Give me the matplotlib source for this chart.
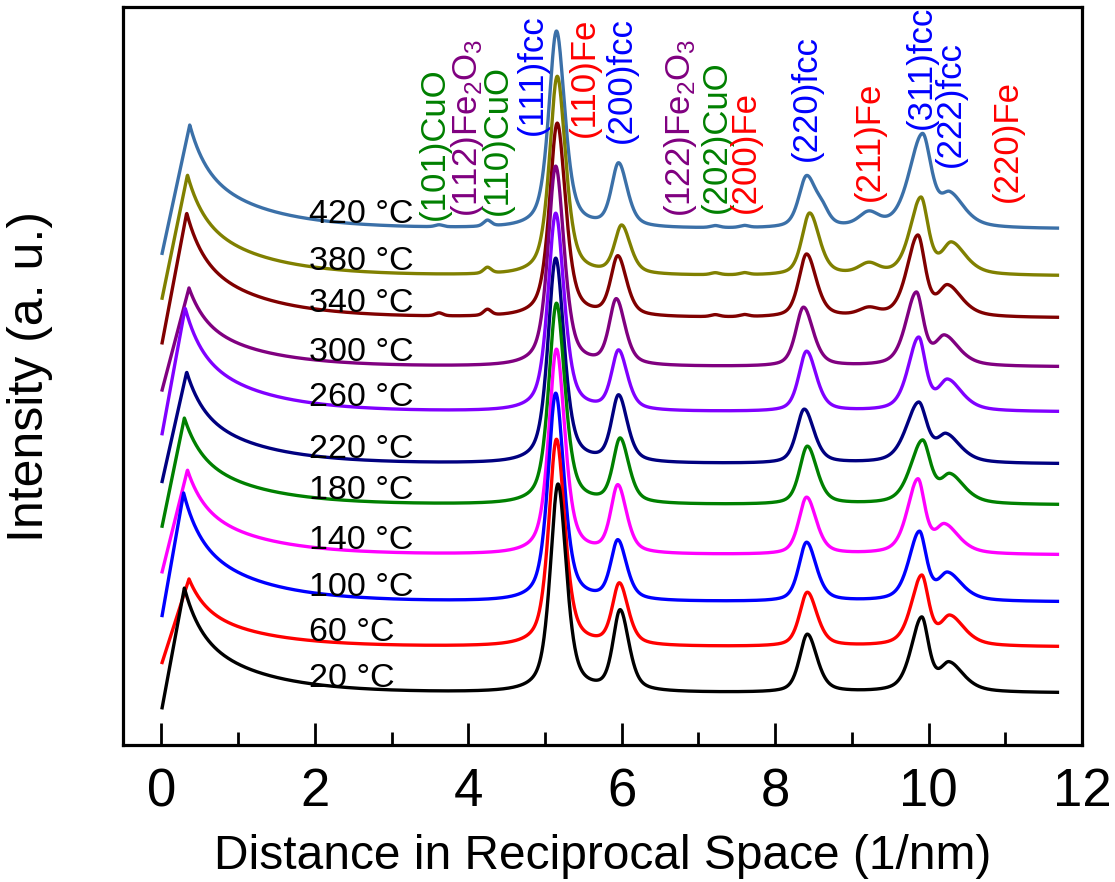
import numpy as np
import matplotlib
matplotlib.use("Agg")
import matplotlib.pyplot as plt

plt.rcParams["font.family"] = ["Liberation Sans", "DejaVu Sans"]
plt.rcParams["mathtext.fontset"] = "custom"
plt.rcParams["mathtext.rm"] = "Liberation Sans"
plt.rcParams["mathtext.it"] = "Liberation Sans:italic"

# temperatures, bottom curve first
temps = [20, 60, 100, 140, 180, 220, 260, 300, 340, 380, 420]
colors = ["#000000", "#ff0000", "#0000ff", "#ff00ff", "#008000", "#000080",
          "#8000ff", "#800080", "#800000", "#808000", "#3b70a8"]

# flat level of every curve (a.u.) and its value at q = 0 relative to that
baseline = [52, 98, 143, 190, 240, 281, 333, 378, 427, 469, 516]
start_drop = [-19, -18, -18, -20, -25, -21, -26, -26, -29, -26, -28]

# low-q peak
lowq_pos = [0.30, 0.36, 0.29, 0.34, 0.30, 0.33, 0.31, 0.36, 0.33, 0.34, 0.37]
lowq_h = [105, 68, 109, 85, 87, 92, 104, 79, 105, 101, 104]

# fcc reflections
pos_111 = [5.17, 5.15, 5.14, 5.15, 5.15, 5.14, 5.14, 5.14, 5.16, 5.16, 5.15]
h_111 = [208, 207, 208, 205, 201, 205, 198, 200, 194, 199, 197]
pos_200 = [5.98, 5.97, 5.95, 5.95, 5.98, 5.96, 5.96, 5.93, 5.95, 6.00, 5.96]
h_200 = [80, 61, 59, 67, 64, 66, 59, 65, 59, 48, 63]
pos_220 = [8.42, 8.42, 8.41, 8.41, 8.42, 8.38, 8.41, 8.37, 8.41, 8.45, 8.41]
h_220 = [58, 54, 59, 57, 58, 54, 60, 59, 63, 62, 51]
pos_311 = [9.91, 9.91, 9.88, 9.86, 9.92, 9.87, 9.87, 9.84, 9.86, 9.90, 9.92]
h_311 = [73, 69, 68, 73, 62, 59, 72, 72, 80, 76, 92]
fwhm_311 = [0.27, 0.27, 0.27, 0.27, 0.31, 0.32, 0.27, 0.27, 0.28, 0.28, 0.34]
pos_222 = [10.27, 10.28, 10.25, 10.21, 10.28, 10.23, 10.25, 10.21, 10.25, 10.30, 10.28]
h_222 = [28, 29, 27, 28, 28, 27, 30, 29, 30, 31, 31]

# weak oxide / Fe peaks seen in the hottest scans
pos_small = [3.62, 4.25, 7.22, 7.60, 8.62, 9.22]
h_small = {
    340: [3, 6, 2, 2, 0, 7],
    380: [0, 6, 2, 2, 0, 10],
    420: [2, 6, 2, 2, 11, 13],
}
w_small = [0.12, 0.12, 0.14, 0.14, 0.20, 0.30]

# peak labels
peak_labels = ["(101)CuO", "(112)Fe$_2$O$_3$", "(110)CuO", "(111)fcc", "(110)Fe",
               "(200)fcc", "(122)Fe$_2$O$_3$", "(202)CuO", "(200)Fe", "(220)fcc",
               "(211)Fe", "(311)fcc", "(222)fcc", "(220)Fe"]
peak_label_x = [3.56, 3.99, 4.38, 4.83, 5.51, 5.99, 6.77, 7.24, 7.61, 8.41,
                9.23, 9.91, 10.29, 11.03]
peak_label_colors = ["#008000", "#800080", "#008000", "#0000ff", "#ff0000",
                     "#0000ff", "#800080", "#008000", "#ff0000", "#0000ff",
                     "#ff0000", "#0000ff", "#0000ff", "#ff0000"]
peak_label_y = [525, 528, 530, 610, 608, 602, 528, 532, 532, 584, 544, 616, 578, 543]


def peak(x, pos, h, wl, wr, eta):
    w = np.where(x < pos, wl, wr) / 2
    d = (x - pos) / w
    return h * (eta / (1 + d ** 2) + (1 - eta) * np.exp(-np.log(2) * d ** 2))


def lowq(x, pos, h, drop):
    rise = drop + (h - drop) * x / pos
    dx = np.clip(x - pos, 0, None)
    decay = h * (0.4 * np.exp(-dx / 0.2) + 0.6 * np.exp(-dx / 0.85))
    return np.where(x < pos, rise, decay)


q = np.linspace(0.01, 11.68, 2500)

fig = plt.figure(figsize=(11.15, 8.82), dpi=100)
ax = fig.add_axes([123 / 1115, 137 / 882, 959 / 1115, 738 / 882])

for i in reversed(range(len(temps))):
    w311 = fwhm_311[i]
    y = baseline[i] + lowq(q, lowq_pos[i], lowq_h[i], start_drop[i])
    y = y + peak(q, pos_111[i], h_111[i], 0.24, 0.26, 0.6)
    y = y + peak(q, pos_200[i], h_200[i], 0.22, 0.27, 0.5)
    y = y + peak(q, pos_220[i], h_220[i], 0.24, 0.30, 0.5)
    y = y + peak(q, pos_311[i], h_311[i], 1.2 * w311, 0.8 * w311, 0.5)
    y = y + peak(q, pos_222[i], h_222[i], 0.30, 0.45, 0.6)
    if temps[i] in h_small:
        for p, h, w in zip(pos_small, h_small[temps[i]], w_small):
            if h:
                y = y + peak(q, p, h, w, w, 0.4)
    ax.plot(q, y, color=colors[i], lw=2.4)
    ax.text(1.93, baseline[i] + 6, f"{temps[i]} °C", fontsize=24.5,
            ha="left", va="baseline", color="black")

for lab, px, c, py in zip(peak_labels, peak_label_x, peak_label_colors, peak_label_y):
    ax.text(px, py, lab, rotation=90, ha="center", va="bottom", color=c,
            fontsize=25)

ax.set_xlim(-0.5, 12)
ax.set_ylim(0, 738)
ax.set_xticks(range(0, 13, 2))
ax.set_xticks(range(1, 12, 2), minor=True)
ax.set_yticks([])
ax.tick_params(axis="x", which="major", direction="in", length=16, width=2,
               labelsize=38, pad=16, top=False)
ax.tick_params(axis="x", which="minor", direction="in", length=9.5, width=2,
               top=False)
for s in ax.spines.values():
    s.set_linewidth(2.3)

ax.set_xlabel("Distance in Reciprocal Space (1/nm)", fontsize=34.5)
ax.xaxis.set_label_coords(0.5, -0.121)
ax.set_ylabel("Intensity (a. u.)", fontsize=36)
ax.yaxis.set_label_coords(-0.073, 0.5)

fig.savefig("out.png", dpi=100)
